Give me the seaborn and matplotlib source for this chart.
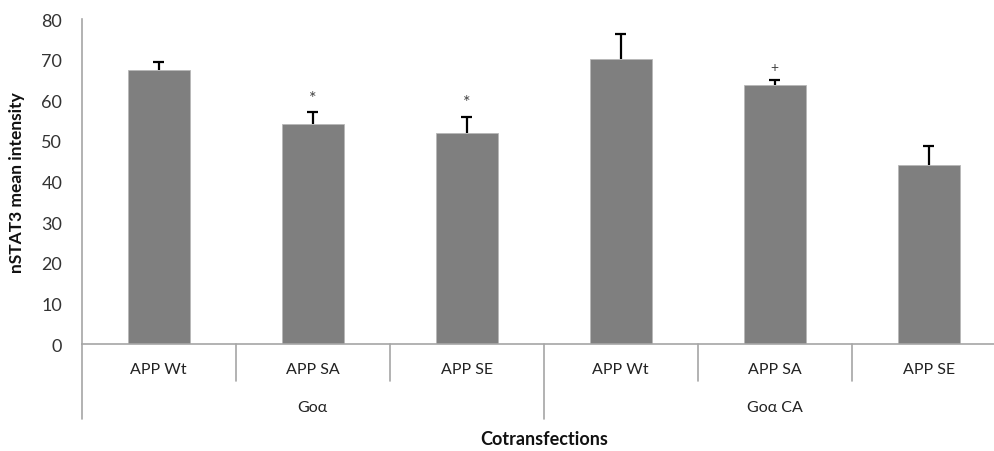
import matplotlib
matplotlib.use("Agg")
import matplotlib.pyplot as plt
import matplotlib.transforms as mtransforms
import numpy as np
import pandas as pd
import seaborn as sns

# Mean nSTAT3 intensity per cotransfection with upper error bars
groups = ["Goα", "Goα", "Goα", "Goα CA", "Goα CA", "Goα CA"]
constructs = ["APP Wt", "APP SA", "APP SE", "APP Wt", "APP SA", "APP SE"]
means = [67.5, 54.1, 51.9, 70.2, 63.8, 44.1]
errors = [2.0, 2.9, 3.9, 6.1, 1.2, 4.6]
marks = ["", "*", "*", "", "+", ""]
yticks = [0, 10, 20, 30, 40, 50, 60, 70, 80]

sns.set_theme(style="white")
plt.rcParams["font.family"] = ["Lato", "DejaVu Sans"]

df = pd.DataFrame({
    "slot": [f"{g}|{c}" for g, c in zip(groups, constructs)],
    "mean": means,
})

fig = plt.figure(figsize=(9.94, 4.52), dpi=100)
ax = fig.add_axes([0.0822, 0.2367, 0.9296, 0.719])

sns.barplot(data=df, x="slot", y="mean", color="#7f7f7f", width=0.4,
            saturation=1, edgecolor="#b8b8b8", linewidth=0.6, ax=ax)

x = np.arange(len(means))
tops = np.array(means) + np.array(errors)
ax.vlines(x, means, tops, color="black", linewidth=1.6, zorder=3)
ax.hlines(tops, x - 0.035, x + 0.035, color="black", linewidth=1.6, zorder=3)

for xi, top, m in zip(x, tops, marks):
    if m:
        ax.annotate(m, (xi, top), xytext=(0, 5), textcoords="offset points",
                    ha="center", va="bottom", fontsize=13 if m == "*" else 10,
                    color="#444444")

ax.set_xlim(-0.5, len(means) - 0.5)
ax.set_ylim(0, 80)
ax.set_yticks(yticks)
ax.set_yticklabels([str(t) for t in yticks], fontsize=13, color="#333333")
ax.tick_params(axis="y", direction="out", length=5, width=1, color="#a6a6a6", pad=9)
ax.set_xticks([])
ax.set_xlabel("")
ax.set_ylabel("nSTAT3 mean intensity", fontsize=12.5, fontweight="bold",
              color="#111111", labelpad=12)

for side in ["top", "right"]:
    ax.spines[side].set_visible(False)
for side in ["left", "bottom"]:
    ax.spines[side].set_color("#a6a6a6")
    ax.spines[side].set_linewidth(1.2)

# Two-level category axis: construct row, then group row
trans = mtransforms.blended_transform_factory(ax.transData, ax.transAxes)
for xi, c in zip(x, constructs):
    ax.text(xi, -0.077, c, transform=trans, ha="center", va="center",
            fontsize=11.5, color="#222222")

group_names = list(dict.fromkeys(groups))
for g in group_names:
    idx = [i for i, gg in enumerate(groups) if gg == g]
    ax.text(np.mean(idx), -0.194, g, transform=trans, ha="center", va="center",
            fontsize=11.5, color="#222222")

for i in range(len(means) + 1):
    b = i - 0.5
    is_group_edge = i == 0 or i == len(means) or groups[i - 1] != groups[i]
    y_end = -0.231 if is_group_edge else -0.114
    ax.plot([b, b], [0, y_end], transform=trans, color="#a6a6a6",
            linewidth=1.2, clip_on=False)

ax.text(0.5, -0.292, "Cotransfections", transform=ax.transAxes, ha="center",
        va="center", fontsize=13, fontweight="bold", color="#111111")

fig.savefig("out.png", dpi=100)
